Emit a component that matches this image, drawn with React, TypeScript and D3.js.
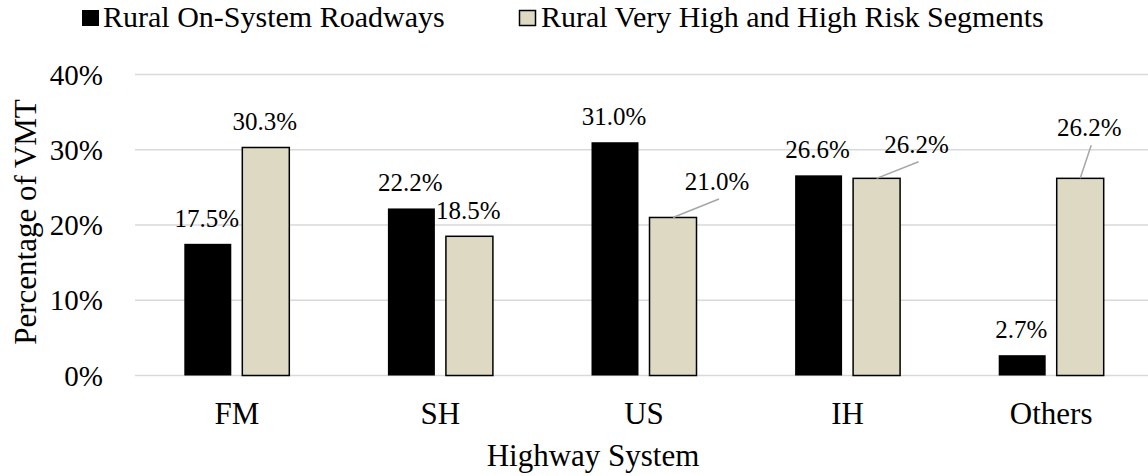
import React from "react";
import * as d3 from "d3";

const categories = ["FM", "SH", "US", "IH", "Others"];
const seriesNames = ["Rural On-System Roadways", "Rural Very High and High Risk Segments"];
const onSystem = [17.5, 22.2, 31.0, 26.6, 2.7];
const highRisk = [30.3, 18.5, 21.0, 26.2, 26.2];
const yTicks = [0, 10, 20, 30, 40];

// label offsets (dx, dy) for labels moved off their bars with leader lines
const labelOffsets: { [k: string]: [number, number] } = {
  "1-2": [45, -10.5],
  "1-3": [41, -8.6],
  "1-4": [10, -25],
};

const W = 1148;
const H = 476;
const fills = ["#000000", "#DDD9C3"];

export default function App() {
  const y = d3.scaleLinear().domain([0, 40]).range([375.5, 74.5]);
  const x0 = d3.scaleBand<string>().domain(categories).range([135, 1153]).padding(0);
  const x1 = d3.scaleBand<string>().domain(["0", "1"]).range([0, 105]).paddingInner(0.19).paddingOuter(0);
  const series = [onSystem, highRisk];

  return (
    <svg width={W} height={H} style={{ position: "absolute", left: 0, top: 0 }}>
      {yTicks.map((t) => (
        <line key={t} x1={135} x2={W} y1={y(t)} y2={y(t)} stroke="#D9D9D9" strokeWidth={t === 0 ? 1.6 : 1.3} />
      ))}
      {yTicks.map((t) => (
        <text key={"l" + t} x={103} y={y(t) + 10} textAnchor="end" fontFamily="Tinos" fontSize={29}>
          {t + "%"}
        </text>
      ))}
      {categories.map((c, i) => {
        const cx = x0(c)! + x0.bandwidth() / 2 - 52.5;
        return series.map((s, si) => {
          const bx = cx + x1(String(si))!;
          const v = s[i];
          return (
            <rect
              key={c + si}
              x={bx}
              y={y(v)}
              width={x1.bandwidth()}
              height={y(0) - y(v)}
              fill={fills[si]}
              stroke="#000"
              strokeWidth={si === 1 ? 1.5 : 0}
            />
          );
        });
      })}
      {categories.map((c, i) => {
        const cx = x0(c)! + x0.bandwidth() / 2 - 52.5;
        return series.map((s, si) => {
          const bx = cx + x1(String(si))! + x1.bandwidth() / 2;
          const v = s[i];
          const top = y(v);
          const off = labelOffsets[si + "-" + i];
          const lx = bx - 1 + (off ? off[0] : 0);
          const ly = top - 17 + (off ? off[1] : 0);
          return (
            <g key={"d" + c + si}>
              {off && <line x1={bx} y1={top} x2={lx + 2} y2={ly + 9} stroke="#A6A6A6" strokeWidth={1.5} />}
              <text x={lx} y={ly} textAnchor="middle" fontFamily="serif" fontSize={25}>
                {v.toFixed(1) + "%"}
              </text>
            </g>
          );
        });
      })}
      {categories.map((c) => (
        <text key={"c" + c} x={x0(c)! + x0.bandwidth() / 2} y={424} textAnchor="middle" fontFamily="Liberation Serif" fontSize={31}>
          {c}
        </text>
      ))}
      <text x={593} y={466} textAnchor="middle" fontFamily="Liberation Serif" fontSize={31}>
        Highway System
      </text>
      <text transform="translate(36,222) rotate(-90)" textAnchor="middle" fontFamily="Liberation Serif" fontSize={31}>
        Percentage of VMT
      </text>
      <rect x={82} y={10} width={17} height={16} fill={fills[0]} />
      <text x={103} y={27} fontFamily="Times New Roman" fontSize={30}>
        {seriesNames[0]}
      </text>
      <rect x={519.5} y={10.5} width={16} height={15} fill={fills[1]} stroke="#000" strokeWidth={1.5} />
      <text x={541} y={27} fontFamily="Liberation Serif" fontSize={30}>
        {seriesNames[1]}
      </text>
    </svg>
  );
}
